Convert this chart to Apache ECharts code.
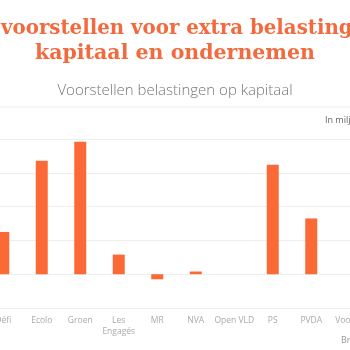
<!DOCTYPE html>
<html>
<head>
<meta charset="utf-8">
<script src="https://cdn.jsdelivr.net/npm/echarts@6/dist/echarts.min.js"></script>
<style>
  html, body { margin: 0; padding: 0; background: #fff; }
  #chart { width: 350px; height: 350px; }
</style>
</head>
<body>
<div id="chart"></div>
<script>
var partijen = ['Défi', 'Ecolo', 'Groen', 'Les\nEngagés', 'MR', 'NVA', 'Open VLD', 'PS', 'PVDA', 'Vooruit'];
var bedragen = [1.25, 3.36, 3.92, 0.58, -0.15, 0.08, 0, 3.24, 1.65, 0];
var yTicks = { min: -1, max: 4, interval: 1 };

var chart = echarts.init(document.getElementById('chart'));

var option = {
  backgroundColor: '#fff',
  animation: false,
  title: [
    {
      text: 'voorstellen voor extra belastingen op',
      left: -4,
      top: 14,
      textStyle: { color: '#f26a3d', fontFamily: 'DejaVu Serif', fontWeight: 'bold', fontSize: 19.8 }
    },
    {
      text: 'kapitaal en ondernemen',
      left: 'center',
      top: 38,
      textStyle: { color: '#f26a3d', fontFamily: 'DejaVu Serif', fontWeight: 'bold', fontSize: 20.5 }
    },
    {
      text: 'Voorstellen belastingen op kapitaal',
      left: 'center',
      top: 78,
      textStyle: { color: '#777', fontFamily: 'Open Sans', fontWeight: 300, fontSize: 15 }
    }
  ],
  graphic: [
    { type: 'line', shape: { x1: 0, y1: 107, x2: 350, y2: 107 }, style: { stroke: '#eee', lineWidth: 1 } },
    { type: 'text', left: 325, top: 116, style: { text: 'In miljard euro', fill: '#666', font: '9px "Open Sans"' } },
    { type: 'text', left: 341, top: 336, style: { text: 'Bron', fill: '#999', font: '9px "Open Sans"' } }
  ],
  grid: { left: -16, width: 385, top: 139, bottom: 42, outerBoundsMode: 'none', containLabel: false },
  xAxis: {
    type: 'category',
    data: partijen,
    axisLine: { show: false },
    axisTick: { show: false },
    axisLabel: { color: '#aaa', fontFamily: 'Open Sans', fontSize: 8.5, margin: 7, lineHeight: 11, interval: 0 }
  },
  yAxis: {
    type: 'value',
    min: yTicks.min,
    max: yTicks.max,
    interval: yTicks.interval,
    axisLabel: { show: false },
    axisLine: { show: false },
    axisTick: { show: false },
    splitLine: { lineStyle: { color: '#eeeeee', width: 1 } }
  },
  series: [{
    type: 'bar',
    data: bedragen,
    barWidth: 12,
    itemStyle: { color: '#fb6a36' }
  }]
};

chart.setOption(option);
</script>
</body>
</html>
